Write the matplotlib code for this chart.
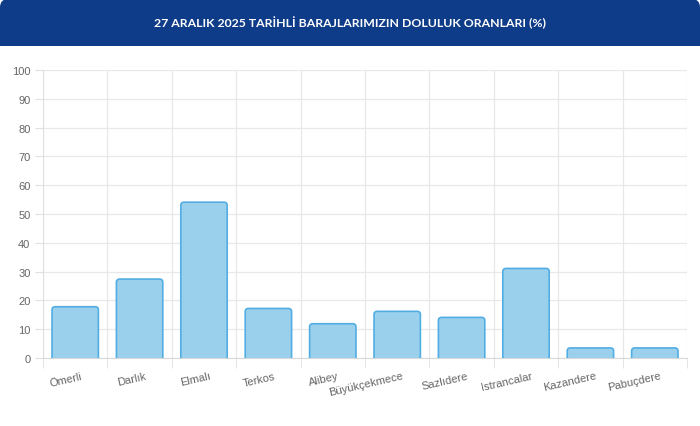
import matplotlib.pyplot as plt
from matplotlib.patches import FancyBboxPatch, Rectangle
import numpy as np

barajlar = ['Ömerli', 'Darlık', 'Elmalı', 'Terkos', 'Alibey', 'Büyükçekmece',
            'Sazlıdere', 'Istrancalar', 'Kazandere', 'Pabuçdere']
doluluk = [17.8, 27.4, 54.1, 17.2, 11.9, 16.2, 14.1, 31.1, 3.5, 3.5]
y_ticks = [0, 10, 20, 30, 40, 50, 60, 70, 80, 90, 100]

title = "27 ARALIK 2025 TARİHLİ BARAJLARIMIZIN DOLULUK ORANLARI (%)"


def main():
    W, H = 700, 427
    fig = plt.figure(figsize=(W / 100, H / 100), dpi=100)
    fig.patch.set_facecolor('white')
    plt.rcParams['font.family'] = ['Liberation Sans', 'DejaVu Sans']

    # header banner: rounded top, square bottom
    banner = '#0f3c88'
    fig.patches.append(FancyBboxPatch((0, 1 - 40 / H), 1, 40 / H,
                                      boxstyle="round,pad=0,rounding_size=0.012",
                                      mutation_aspect=W / H,
                                      transform=fig.transFigure,
                                      facecolor=banner, edgecolor='none'))
    fig.patches.append(Rectangle((0, 1 - 47 / H), 1, 25 / H,
                                 transform=fig.transFigure,
                                 facecolor=banner, edgecolor='none'))
    fig.text(0.5, 1 - 23 / H, title, color='white', fontsize=8.8,
             fontweight='bold', ha='center', va='center', family='Lato')

    ax = fig.add_axes([43 / W, 1 - 359 / H, (687 - 43) / W, (359 - 71) / H])
    x = np.arange(len(barajlar))
    bars = ax.bar(x, doluluk, width=0.72, color='none', edgecolor='none')

    # rounded bars built from the bar geometry
    px_x = (687 - 43) / len(barajlar)
    px_y = (359 - 71) / 100
    for b in bars:
        r = FancyBboxPatch((b.get_x(), -3), b.get_width(), b.get_height() + 3,
                           boxstyle="round,pad=0,rounding_size=0.05",
                           mutation_aspect=px_x / px_y,
                           facecolor='#9bd0ec', edgecolor='#52ade3',
                           linewidth=1.2, zorder=3)
        ax.add_patch(r)

    ax.set_xlim(-0.5, len(barajlar) - 0.5)
    ax.set_ylim(0, 100)
    ax.set_yticks(y_ticks)
    ax.set_xticks(x + 0.08, labels=barajlar)
    ax.set_xticks(np.arange(len(barajlar) + 1) - 0.5, minor=True)

    ax.grid(True, which='major', axis='y', color='#e8e8e8', linewidth=0.9, zorder=0)
    ax.grid(True, which='minor', axis='x', color='#e8e8e8', linewidth=0.9, zorder=0)
    ax.tick_params(axis='x', which='major', length=0, labelsize=8,
                   labelcolor='#666666', pad=9)
    ax.tick_params(axis='x', which='minor', length=7, color='#e0e0e0')
    ax.tick_params(axis='y', length=6, color='#e0e0e0', labelsize=8,
                   labelcolor='#666666', pad=3)
    plt.setp(ax.get_xticklabels(), rotation=13, ha='right',
             rotation_mode='anchor')

    for s in ['top', 'right']:
        ax.spines[s].set_visible(False)
    ax.spines['left'].set_color('#e0e0e0')
    ax.spines['bottom'].set_color('#d8d8d8')

    fig.savefig('out.png', dpi=100)


if __name__ == "__main__":
    main()
